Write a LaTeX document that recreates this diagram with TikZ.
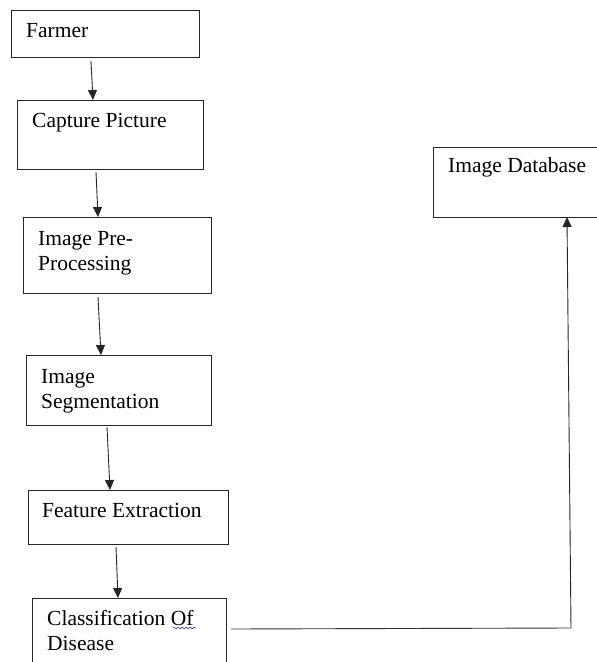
\documentclass[tikz,border=0pt]{standalone}
\usepackage{fontspec}
\setmainfont{Liberation Serif}
\usetikzlibrary{arrows.meta,calc,decorations.pathmorphing}
\tikzset{
  box/.style={draw=black!85, line width=1pt, anchor=north west, inner sep=0pt, outer sep=0pt},
  lbl/.style={anchor=base west, inner sep=0pt, align=left, font=\fontsize{21.5}{25}\selectfont},
  arr/.style={draw=black!85, line width=0.9pt, -{Triangle[length=10pt,width=9pt]}},
  conn/.style={draw=black!80, line width=0.9pt}
}
\begin{document}
\begin{tikzpicture}[x=1pt,y=-1pt]
\useasboundingbox (0,0) rectangle (597,662);
\clip (0,0) rectangle (597,662);
% boxes
\node[box, minimum width=188pt, minimum height=47pt] (farmer) at (11,10) {};
\node[box, minimum width=186pt, minimum height=69pt] (capture) at (17,100) {};
\node[box, minimum width=188pt, minimum height=76pt] (pre) at (23,217) {};
\node[box, minimum width=185pt, minimum height=70pt] (seg) at (26,355) {};
\node[box, minimum width=200pt, minimum height=54pt] (feat) at (28,490) {};
\node[box, minimum width=194pt, minimum height=80pt] (cls) at (32,598) {};
\node[box, minimum width=180pt, minimum height=70pt] (db) at (433,147) {};
% labels (base anchor = baseline of last line)
\node[lbl] (tfarmer) at ($(farmer.north west)+(15,27)$) {Farmer};
\node[lbl] (tcapture) at ($(capture.north west)+(15,27)$) {Capture Picture};
\node[lbl] (tpre) at ($(pre.north west)+(15,53)$) {Image Pre-\\Processing};
\node[lbl] (tseg) at ($(seg.north west)+(15,53)$) {Image\\Segmentation};
\node[lbl] (tfeat) at ($(feat.north west)+(14,27)$) {Feature Extraction};
\node[lbl] (tcls) at ($(cls.north west)+(15,52)$) {Classification Of\\Disease};
\node[lbl] (tdb) at ($(db.north west)+(15,25)$) {Image Database};
% spell-check underline under "Of"
\draw[blue!80, line width=0.6pt, decorate, decoration={snake, amplitude=0.8pt, segment length=4pt}]
  ($(cls.north west)+(141,30)$) -- ($(cls.north west)+(164,30)$);
% arrows
\draw[arr] ($(farmer.south west)+(80,4)$) -- ($(capture.north west)+(76,0)$);
\draw[arr] ($(capture.south west)+(79,3)$) -- ($(pre.north west)+(75,0)$);
\draw[arr] ($(pre.south west)+(75,4)$) -- ($(seg.north west)+(75,0)$);
\draw[arr] ($(seg.south west)+(81,2)$) -- ($(feat.north west)+(82,0)$);
\draw[arr] ($(feat.south west)+(88,3)$) -- ($(cls.north west)+(86,0)$);
% connector to database
\coordinate (corner) at (571,628);
\draw[conn] ($(cls.north east)+(5,31)$) -- (corner);
\draw[arr] (corner) -- ($(db.south west)+(134,0)$);
\end{tikzpicture}
\end{document}
